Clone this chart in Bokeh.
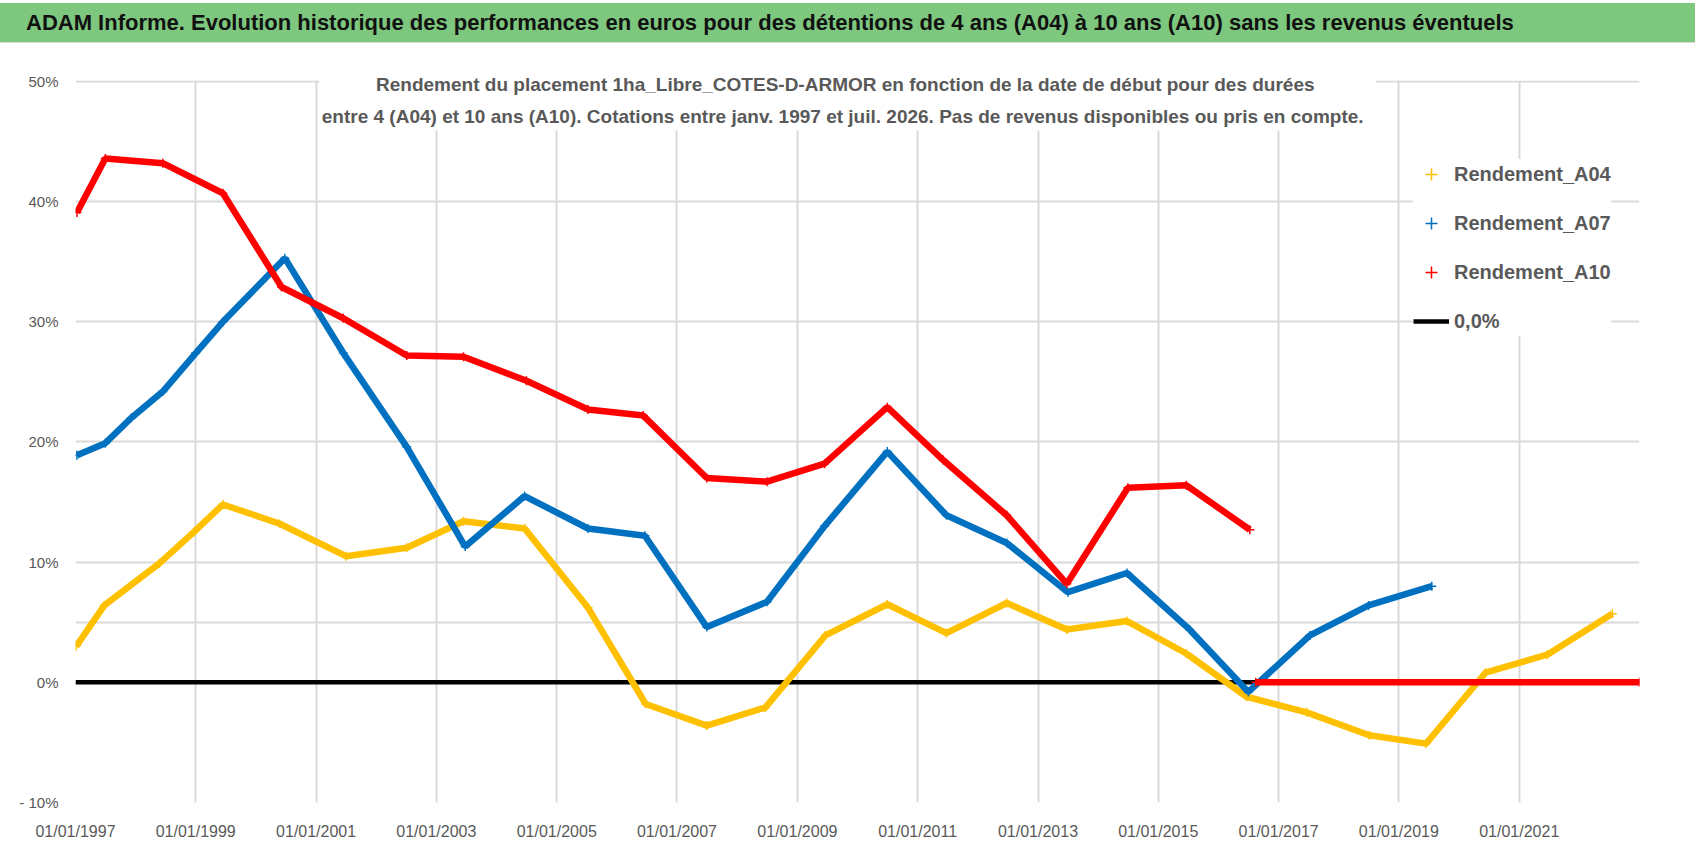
import numpy as np
import pandas as pd
from bokeh.plotting import figure
from bokeh.models import (Range1d, FixedTicker, DatetimeTickFormatter, Label,
                          Legend, LegendItem, ColumnDataSource, Div, BoxAnnotation)
from bokeh.layouts import column
from bokeh.embed import file_html
from bokeh.resources import INLINE

TITLE = ("ADAM Informe. Evolution historique des performances en euros pour des "
         "détentions de 4 ans (A04) à 10 ans (A10) sans les revenus éventuels")
SUBTITLE_1 = ("Rendement du placement 1ha_Libre_COTES-D-ARMOR en fonction de la date "
              "de début pour des durées")
SUBTITLE_2 = ("entre 4 (A04) et 10 ans (A10).  Cotations entre janv. 1997 et juil. 2026. "
              "Pas de revenus disponibles ou pris en compte.")

# ---- data ----
a04_dates = ["1997-01-05", "1997-06-25", "1998-05-25", "1998-12-20", "1999-06-15",
             "2000-05-25", "2001-07-01", "2002-07-05", "2003-06-15", "2004-06-20",
             "2005-07-10", "2006-06-25", "2007-07-01", "2008-06-20", "2009-06-20",
             "2010-07-01", "2011-06-25", "2012-06-25", "2013-06-25", "2014-06-25",
             "2015-06-20", "2016-06-20", "2017-06-20", "2018-07-05", "2019-06-15",
             "2020-06-10", "2021-06-20", "2022-07-20"]
a04_values = [3.0, 6.4, 9.9, 12.5, 14.8, 13.2, 10.5, 11.2, 13.4, 12.8,
              6.2, -1.8, -3.6, -2.1, 3.9, 6.5, 4.1, 6.6, 4.4, 5.1,
              2.4, -1.2, -2.5, -4.4, -5.1, 0.8, 2.3, 5.7]

a07_dates = ["1997-01-10", "1997-07-01", "1997-12-05", "1998-06-15", "1999-01-01",
             "1999-06-15", "2000-06-25", "2001-06-15", "2002-07-05", "2003-06-25",
             "2004-06-20", "2005-07-10", "2006-06-20", "2007-07-01", "2008-07-01",
             "2009-06-15", "2010-07-01", "2011-06-25", "2012-06-25", "2013-07-01",
             "2014-06-25", "2015-07-10", "2016-07-01", "2017-07-10", "2018-07-01",
             "2019-07-20"]
a07_values = [18.9, 19.9, 22.0, 24.2, 27.4, 30.0, 35.3, 27.4, 19.6, 11.3,
              15.5, 12.8, 12.2, 4.6, 6.7, 13.0, 19.2, 13.9, 11.6, 7.5,
              9.1, 4.4, -0.8, 3.9, 6.4, 8.0]

a10_dates = ["1997-01-10", "1997-07-01", "1998-06-15", "1999-06-15", "2000-06-05",
             "2001-06-15", "2002-07-05", "2003-06-15", "2004-07-01", "2005-07-10",
             "2006-06-10", "2007-07-01", "2008-07-01", "2009-06-15", "2010-07-01",
             "2011-06-05", "2012-06-25", "2013-06-25", "2014-07-01", "2015-06-20",
             "2016-07-10", "2016-08-01", "2016-08-15", "2023-01-01"]
a10_values = [39.1, 43.6, 43.2, 40.7, 32.9, 30.3, 27.2, 27.1, 25.1, 22.7,
              22.2, 17.0, 16.7, 18.2, 22.9, 18.5, 13.9, 8.2, 16.2, 16.4,
              12.7, np.nan, 0.0, 0.0]

zero_dates = ["1997-01-01", "2023-01-01"]
zero_values = [0.0, 0.0]

series_names = ["Rendement_A04", "Rendement_A07", "Rendement_A10"]
series_colors = ["#FFC000", "#0070C0", "#FF0000"]
zero_label = "0,0%"

x_start, x_end = "1997-01-01", "2023-01-01"
x_tick_dates = ["1997-01-01", "1999-01-01", "2001-01-01", "2003-01-01", "2005-01-01",
                "2007-01-01", "2009-01-01", "2011-01-01", "2013-01-01", "2015-01-01",
                "2017-01-01", "2019-01-01", "2021-01-01"]
y_ticks = [-10, 0, 10, 20, 30, 40, 50]
y_tick_labels = ["- 10%", "0%", "10%", "20%", "30%", "40%", "50%"]
y_grid_lines = [-10, 0, 5, 10, 20, 30, 40, 50]
y_bottom, y_axis_top = -10, 50
y_frame_top = 50.915   # a little headroom above the 50% line for the subtitle

FONT = "Liberation Sans"
GREY = "#595959"


def ms(d):
    return pd.Timestamp(d).value / 1e6


# ---- title bar ----
title_div = Div(text=TITLE, width=1695, height=40, margin=(3, 0, 0, 0),
                styles={"background-color": "#7DC77F", "font-family": FONT,
                        "font-weight": "bold", "font-size": "22px", "color": "#111111",
                        "line-height": "39px", "padding-left": "26px",
                        "white-space": "nowrap", "box-sizing": "border-box",
                        "border-bottom": "1px solid #d9d9d9"})

# ---- main chart ----
p = figure(width=1696, height=812, x_axis_type="datetime",
           x_range=Range1d(ms(x_start), ms(x_end)),
           y_range=Range1d(y_bottom, y_frame_top),
           toolbar_location=None, output_backend="svg",
           min_border_left=75, min_border_right=57, min_border_top=27,
           min_border_bottom=53)
p.outline_line_color = None
p.background_fill_color = "white"
p.border_fill_color = "white"

xt = FixedTicker(ticks=[ms(d) for d in x_tick_dates])
p.xaxis.ticker = xt
p.xgrid.ticker = xt
p.xaxis.formatter = DatetimeTickFormatter(years="%d/%m/%Y", months="%d/%m/%Y",
                                          days="%d/%m/%Y")
p.yaxis.ticker = FixedTicker(ticks=y_ticks)
p.ygrid.ticker = FixedTicker(ticks=y_grid_lines)
p.yaxis.major_label_overrides = {t: l for t, l in zip(y_ticks, y_tick_labels)}

for ax in (p.xaxis, p.yaxis):
    ax.axis_line_color = None
    ax.major_tick_line_color = None
    ax.minor_tick_line_color = None
    ax.major_label_text_font = FONT
    ax.major_label_text_color = GREY
p.xaxis.major_label_text_font_size = "16px"
p.yaxis.major_label_text_font_size = "15px"
p.xaxis.major_label_standoff = 14
p.yaxis.major_label_standoff = 11

for g in (p.xgrid, p.ygrid):
    g.grid_line_color = "#D9D9D9"
    g.grid_line_width = 2

# hide the vertical grid stubs above the 50% line
p.add_layout(BoxAnnotation(left=ms(x_start), right=ms(x_end), bottom=y_axis_top + 0.09,
                           top=y_frame_top, fill_color="white", fill_alpha=1.0,
                           line_alpha=0.0, level="underlay"))

src_zero = ColumnDataSource(dict(x=pd.to_datetime(zero_dates), y=zero_values))
zero_r = p.line("x", "y", source=src_zero, line_color="black", line_width=4.5)

legend_items = []
for name, color, d, v in zip(series_names, series_colors,
                             [a04_dates, a07_dates, a10_dates],
                             [a04_values, a07_values, a10_values]):
    src = ColumnDataSource(dict(x=pd.to_datetime(d), y=v))
    p.line("x", "y", source=src, line_color=color, line_width=6.5)
    sr = p.scatter("x", "y", source=src, marker="cross", size=9, line_width=1.5,
                   line_color=color)
    legend_items.append(LegendItem(label=name, renderers=[sr]))
legend_items.append(LegendItem(label=zero_label, renderers=[zero_r]))

legend = Legend(items=legend_items, location=(1338, 466), margin=0, padding=20,
                spacing=19, glyph_width=36, glyph_height=30, label_height=30,
                label_standoff=5, label_text_font=FONT, label_text_font_size="20px",
                label_text_font_style="bold", label_text_color=GREY,
                border_line_color=None, background_fill_color="white",
                background_fill_alpha=1.0)
p.add_layout(legend)

# white area behind the two-line subtitle (hides the grid there)
p.add_layout(BoxAnnotation(left=ms("2001-01-20"), right=ms("2018-08-15"),
                           top=y_frame_top, bottom=45.92, fill_color="white",
                           fill_alpha=1.0, line_alpha=0.0))
for txt, yv in ((SUBTITLE_1, 49.79), (SUBTITLE_2, 47.10)):
    p.add_layout(Label(x=ms("2009-10-19"), y=yv, text=txt, text_align="center",
                       text_baseline="middle", text_font=FONT,
                       text_font_size="19px", text_font_style="bold",
                       text_color=GREY))

layout = column(title_div, p, spacing=0)
open("out.html", "w").write(file_html(layout, INLINE))
